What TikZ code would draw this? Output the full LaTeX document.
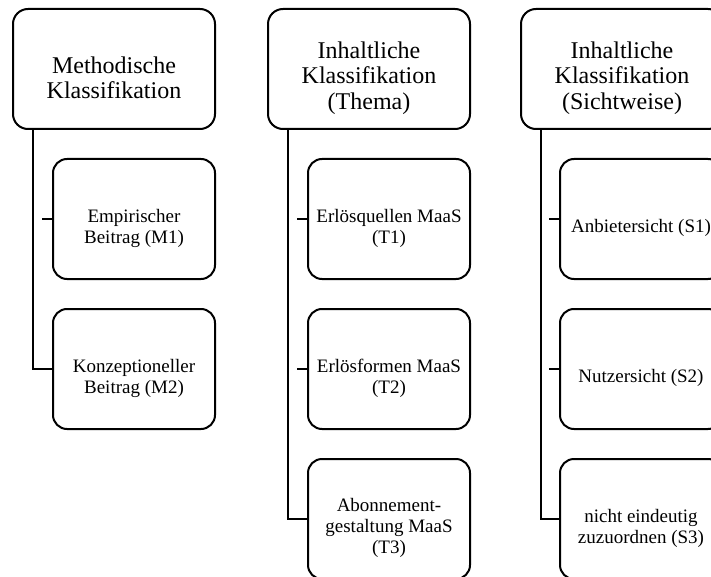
\documentclass[tikz,border=0pt]{standalone}
\usepackage{fontspec}
\setmainfont{Liberation Serif}
\begin{document}
\begin{tikzpicture}[x=1pt,y=-1pt,
  hbox/.style={draw, line width=2pt, rounded corners=15pt, minimum width=202pt, minimum height=120pt, inner sep=0pt, outer sep=0pt},
  cbox/.style={draw, line width=2pt, rounded corners=14pt, minimum width=162pt, minimum height=120pt, inner sep=0pt, outer sep=0pt},
  htext/.style={font=\fontsize{24}{25.5}\selectfont, align=center, inner sep=0pt},
  ctext/.style={font=\fontsize{19}{21}\selectfont, align=center, inner sep=0pt},
  conn/.style={line width=2pt}]
\useasboundingbox (0,0) rectangle (711,577);
\clip (0,0) rectangle (711,577);
% column 1
\node[hbox] (h1) at (114,69) {};
\node[htext] (h1t) at ([yshift=-9pt]h1.center) {Methodische\\Klassifikation};
\node[cbox] (m1) at (134,219) {};
\node[ctext] (m1t) at ([yshift=-9pt]m1.center) {Empirischer\\Beitrag (M1)};
\node[cbox] (m2) at (134,369) {};
\node[ctext] (m2t) at ([yshift=-9pt]m2.center) {Konzeptioneller\\Beitrag (M2)};
\draw[conn] ([xshift=20pt]h1.south west) |- (m2.west);
\draw[conn] ([xshift=-11pt]m1.west) -- (m1.west);
% column 2
\node[hbox] (h2) at (369,69) {};
\node[htext] (h2t) at ([yshift=-9pt]h2.center) {Inhaltliche\\Klassifikation\\(Thema)};
\node[cbox] (t1) at (389,219) {};
\node[ctext] (t1t) at ([yshift=-9pt]t1.center) {Erlösquellen MaaS\\(T1)};
\node[cbox] (t2) at (389,369) {};
\node[ctext] (t2t) at ([yshift=-9pt]t2.center) {Erlösformen MaaS\\(T2)};
\node[cbox] (t3) at (389,519) {};
\node[ctext] (t3t) at ([yshift=-9pt]t3.center) {Abonnement-\\gestaltung MaaS\\(T3)};
\draw[conn] ([xshift=20pt]h2.south west) |- (t3.west);
\draw[conn] ([xshift=-11pt]t1.west) -- (t1.west);
\draw[conn] ([xshift=-11pt]t2.west) -- (t2.west);
% column 3
\node[hbox] (h3) at (622,69) {};
\node[htext] (h3t) at ([yshift=-9pt]h3.center) {Inhaltliche\\Klassifikation\\(Sichtweise)};
\node[cbox] (s1) at (641,219) {};
\node[ctext] (s1t) at ([yshift=-9pt]s1.center) {Anbietersicht (S1)};
\node[cbox] (s2) at (641,369) {};
\node[ctext] (s2t) at ([yshift=-9pt]s2.center) {Nutzersicht (S2)};
\node[cbox] (s3) at (641,519) {};
\node[ctext] (s3t) at ([yshift=-9pt]s3.center) {nicht eindeutig\\zuzuordnen (S3)};
\draw[conn] ([xshift=20pt]h3.south west) |- (s3.west);
\draw[conn] ([xshift=-11pt]s1.west) -- (s1.west);
\draw[conn] ([xshift=-11pt]s2.west) -- (s2.west);
\end{tikzpicture}
\end{document}
